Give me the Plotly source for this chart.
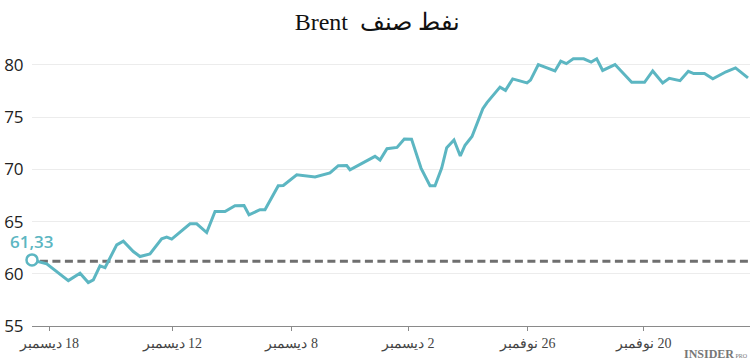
import plotly.graph_objects as go

# ---- data ----
# position along the time axis (0 = latest point on the left, 100 = oldest on the right)
t = [0.0, 2.05, 5.06, 6.69, 7.84, 8.54, 9.47, 10.17, 11.80, 12.72, 14.11, 15.04, 16.43,
     18.06, 18.76, 19.46, 22.01, 22.94, 24.33, 25.49, 26.88, 28.27, 29.53, 30.22, 31.75,
     32.45, 34.30, 35.00, 36.87, 39.42, 41.50, 42.66, 43.83, 44.29, 47.77, 48.47, 49.44,
     50.84, 51.85, 52.86, 54.18, 55.43, 56.13, 57.06, 57.76, 58.77, 59.65, 60.31, 61.28,
     62.79, 63.37, 65.18, 65.95, 66.95, 68.94, 69.43, 70.52, 72.84, 73.64, 74.42, 75.39,
     76.84, 77.88, 78.65, 79.48, 81.20, 83.52, 85.31, 86.45, 87.84, 88.75, 90.25, 91.41,
     92.16, 93.66, 94.82, 96.66, 97.98, 99.72]
price = [61.33, 60.95, 59.35, 60.06, 59.16, 59.41, 60.76, 60.59, 62.77, 63.13, 62.13, 61.65, 61.91,
         63.35, 63.51, 63.32, 64.78, 64.78, 63.95, 65.96, 65.96, 66.51, 66.54, 65.65, 66.13,
         66.13, 68.43, 68.46, 69.48, 69.26, 69.65, 70.35, 70.37, 69.96, 71.24, 70.89, 71.98,
         72.10, 72.91, 72.89, 70.12, 68.43, 68.43, 70.12, 72.07, 72.81, 71.28, 72.31, 73.15,
         75.81, 76.39, 77.87, 77.56, 78.66, 78.27, 78.54, 80.03, 79.42, 80.35, 80.12, 80.58,
         80.58, 80.27, 80.58, 79.47, 80.03, 78.33, 78.33, 79.42, 78.27, 78.72, 78.49, 79.39,
         79.17, 79.17, 78.66, 79.34, 79.71, 78.75]
ref_level = 61.2

tick_pos = [2.41, 19.54, 36.17, 52.41, 69.04, 85.19]
tick_text = ["18 ديسمبر", "12 ديسمبر", "8 ديسمبر", "2 ديسمبر", "26 نوفمبر", "20 نوفمبر"]
y_ticks = [55, 60, 65, 70, 75, 80]

title_text = "نفط صنف  Brent"

TEAL = "#5cb6c2"
RLE, PDF = "\u202b", "\u202c"

fig = go.Figure()

fig.add_shape(type="line", xref="paper", yref="y", x0=0.011, x1=1,
              y0=ref_level, y1=ref_level,
              line=dict(color="#6f6f6f", width=3, dash="8px,4.5px"), layer="below")

fig.add_trace(go.Scatter(x=t, y=price, mode="lines",
                         line=dict(color=TEAL, width=3), hoverinfo="skip",
                         cliponaxis=False))
fig.add_trace(go.Scatter(x=[t[0]], y=[price[0]], mode="markers",
                         marker=dict(symbol="circle", size=11, color="white",
                                     line=dict(color=TEAL, width=2.5)),
                         cliponaxis=False, hoverinfo="skip"))

fig.add_annotation(x=t[0], y=price[0], xref="x", yref="y",
                   text=f"{price[0]:.2f}".replace(".", ","), showarrow=False,
                   yshift=18, xanchor="center", yanchor="middle",
                   font=dict(family="Open Sans, Noto Sans, sans-serif", size=17,
                             color=TEAL, weight=600))

fig.add_annotation(x=1.0, y=-0.098, xref="paper", yref="paper", xanchor="right",
                   yanchor="middle", showarrow=False,
                   text="<b>INSIDER</b><span style='font-size:6px'> PRO</span>",
                   font=dict(family="Liberation Serif, serif", size=12, color="#777777"))

fig.update_layout(
    width=750, height=361,
    margin=dict(l=32, r=0, t=44, b=35),
    paper_bgcolor="white", plot_bgcolor="white",
    showlegend=False,
    title=dict(text=RLE + title_text + PDF, x=0.481, xref="paper", xanchor="center",
               y=0.94, yanchor="middle",
               font=dict(family="Liberation Serif, Times New Roman, serif", size=24,
                         color="#111111")),
    xaxis=dict(range=[0, 100], showgrid=False, zeroline=False,
               showline=True, linecolor="#8a8a8a", linewidth=1,
               ticks="outside", ticklen=4, tickcolor="#8a8a8a",
               tickvals=tick_pos, ticktext=[RLE + s + PDF for s in tick_text],
               tickfont=dict(family="Liberation Serif, Times New Roman, serif",
                             size=14, color="#444444")),
    yaxis=dict(range=[55, 82], tickvals=y_ticks, showgrid=True, gridcolor="#ececec",
               gridwidth=1, zeroline=False, showline=False,
               ticks="outside", ticklen=4, tickcolor="rgba(0,0,0,0)",
               tickfont=dict(family="Open Sans, Noto Sans, sans-serif", size=17,
                             color="#222222")),
)

fig.write_html("out.html")
